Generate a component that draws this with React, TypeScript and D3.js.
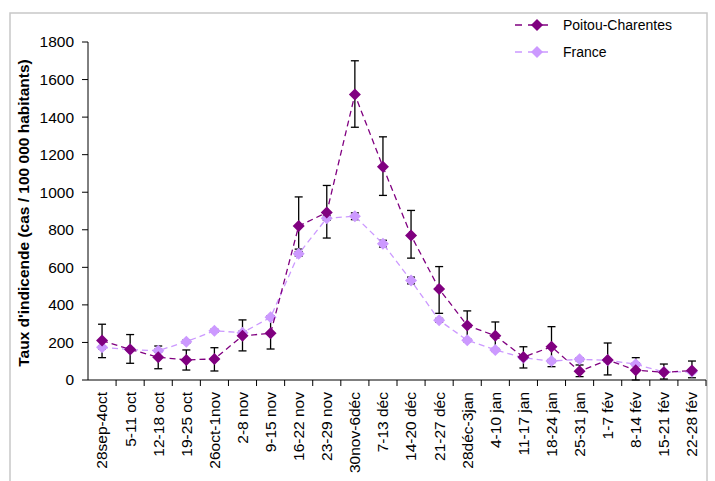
import { FC } from 'react'
import * as d3 from 'd3'

const weeks = [
  '28sep-4oct', '5-11 oct', '12-18 oct', '19-25 oct', '26oct-1nov', '2-8 nov', '9-15 nov',
  '16-22 nov', '23-29 nov', '30nov-6déc', '7-13 déc', '14-20 déc', '21-27 déc', '28déc-3jan',
  '4-10 jan', '11-17 jan', '18-24 jan', '25-31 jan', '1-7 fév', '8-14 fév', '15-21 fév', '22-28 fév'
]

const poitou = [210, 163, 121, 107, 112, 235, 249, 820, 892, 1520, 1135, 770, 485, 290, 236, 122, 177, 46, 107, 52, 41, 50]
const poitouLow = [119, 89, 60, 53, 48, 155, 165, 697, 756, 1346, 983, 649, 355, 212, 162, 64, 71, 18, 27, 0, 5, 12]
const poitouHigh = [297, 242, 181, 160, 172, 320, 335, 975, 1036, 1700, 1295, 903, 604, 368, 309, 177, 284, 80, 197, 119, 85, 101]

const france = [174, 162, 156, 204, 262, 252, 334, 672, 862, 872, 726, 530, 318, 212, 160, 118, 101, 110, 105, 84, 42, 44]
const franceErr = [8, 8, 8, 8, 8, 8, 8, 12, 12, 18, 18, 18, 10, 8, 8, 8, 8, 8, 8, 8, 8, 8]

const yTicks = [0, 200, 400, 600, 800, 1000, 1200, 1400, 1600, 1800]

const W = 715
const H = 481
const margin = { top: 42, right: 9, bottom: 101, left: 88 }
const font = 'Arial, "Liberation Sans", sans-serif'
const darkColor = '#800080'
const lightColor = '#CC99FF'

const diamond = (cx: number, cy: number, r: number) =>
  `M${cx},${cy - r}L${cx + r},${cy}L${cx},${cy + r}L${cx - r},${cy}Z`

export const App: FC = () => {
  const x = d3.scaleBand<string>()
    .domain(weeks)
    .range([margin.left, W - margin.right])
  const y = d3.scaleLinear()
    .domain([0, 1800])
    .range([H - margin.bottom, margin.top])

  const cx = (i: number) => (x(weeks[i]) || 0) + x.bandwidth() / 2
  const line = d3.line<number>()
    .x((_, i) => cx(i))
    .y(d => y(d))

  const y0 = y(0)

  const errBar = (i: number, lo: number, hi: number, key: string) => (
    <g key={key} stroke="#000" strokeWidth={1.3}>
      <line x1={cx(i)} x2={cx(i)} y1={y(lo)} y2={y(hi)} />
      <line x1={cx(i) - 4} x2={cx(i) + 4} y1={y(lo)} y2={y(lo)} />
      <line x1={cx(i) - 4} x2={cx(i) + 4} y1={y(hi)} y2={y(hi)} />
    </g>
  )

  return (
    <svg width={W} height={H} style={{ display: 'block', position: 'absolute', left: 0, top: 0 }}>
      <rect x={0} y={0} width={W} height={H} fill="#fff" />
      <rect x={10} y={13} width={697} height={480} fill="none" stroke="#c8c8c8" strokeWidth={1.5} />

      {/* y axis */}
      <line x1={margin.left} x2={margin.left} y1={y(1800)} y2={y0} stroke="#000" />
      {yTicks.map(t => (
        <g key={t}>
          <line x1={margin.left - 6} x2={margin.left} y1={y(t)} y2={y(t)} stroke="#000" />
          <text x={margin.left - 14} y={y(t)} dy="0.35em" textAnchor="end" fontSize={15.5} fontFamily={font}>{t}</text>
        </g>
      ))}
      <text transform={`translate(24,${(y(1800) + y0) / 2 + 2}) rotate(-90)`} textAnchor="middle" dy="0.35em"
        fontSize={15.5} fontWeight="bold" fontFamily={font}>
        Taux d'indicende (cas / 100 000 habitants)
      </text>

      {/* x axis */}
      <line x1={margin.left} x2={W - margin.right} y1={y0} y2={y0} stroke="#000" />
      {weeks.map((w, i) => (
        <g key={w}>
          <line x1={(x(w) || 0) + x.bandwidth()} x2={(x(w) || 0) + x.bandwidth()} y1={y0} y2={y0 + 6} stroke="#000" />
          <text transform={`translate(${cx(i)},${y0 + 12}) rotate(-90)`} textAnchor="end" dy="0.35em"
            fontSize={15.5} fontFamily={font}>{w}</text>
        </g>
      ))}

      {/* error bars */}
      {poitou.map((_, i) => errBar(i, poitouLow[i], poitouHigh[i], 'pe' + i))}
      {france.map((v, i) => errBar(i, v - franceErr[i], v + franceErr[i], 'fe' + i))}

      {/* series */}
      <path d={line(france) || ''} fill="none" stroke={lightColor} strokeWidth={1.3} strokeDasharray="6,4" />
      {france.map((v, i) => <path key={'fm' + i} d={diamond(cx(i), y(v), 6)} fill={lightColor} />)}
      <path d={line(poitou) || ''} fill="none" stroke={darkColor} strokeWidth={1.3} strokeDasharray="6,4" />
      {poitou.map((v, i) => <path key={'pm' + i} d={diamond(cx(i), y(v), 6)} fill={darkColor} />)}

      {/* legend */}
      {[{ name: 'Poitou-Charentes', c: darkColor }, { name: 'France', c: lightColor }].map((s, k) => {
        const ly = 25 + k * 27
        return (
          <g key={s.name}>
            <line x1={514} x2={553} y1={ly} y2={ly} stroke={s.c} strokeWidth={1.3} strokeDasharray="7,6" strokeDashoffset={-1} />
            <path d={diamond(537, ly, 6)} fill={s.c} />
            <text x={563} y={ly} dy="0.35em" fontSize={14} fontFamily={font}>{s.name}</text>
          </g>
        )
      })}
    </svg>
  )
}

export default App
